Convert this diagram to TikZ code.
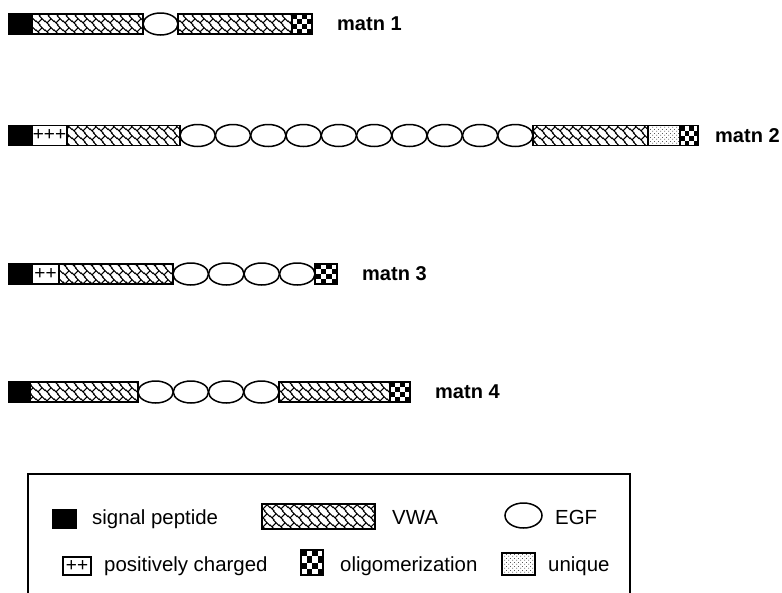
\documentclass[tikz,border=0pt]{standalone}
\usepackage{fontspec}
\setmainfont{Liberation Sans}
\usetikzlibrary{shapes.geometric,patterns,calc}

\pgfdeclarepatternformonly{vwaweave}{\pgfqpoint{0pt}{0pt}}{\pgfqpoint{9pt}{9pt}}{\pgfqpoint{9pt}{9pt}}{%
  \pgfsetlinewidth{1.2pt}%
  \pgfpathmoveto{\pgfqpoint{-1pt}{5.5pt}}\pgfpathlineto{\pgfqpoint{5.5pt}{-1pt}}%
  \pgfpathmoveto{\pgfqpoint{3.5pt}{10pt}}\pgfpathlineto{\pgfqpoint{10pt}{3.5pt}}%
  \pgfpathmoveto{\pgfqpoint{2.25pt}{2.25pt}}\pgfpathlineto{\pgfqpoint{6.75pt}{6.75pt}}%
  \pgfusepath{stroke}}

\pgfdeclarepatternformonly{uniqdots}{\pgfqpoint{0pt}{0pt}}{\pgfqpoint{4pt}{4pt}}{\pgfqpoint{4pt}{4pt}}{%
  \pgfpathcircle{\pgfqpoint{1pt}{1pt}}{0.5pt}%
  \pgfpathcircle{\pgfqpoint{3pt}{3pt}}{0.5pt}%
  \pgfusepath{fill}}

\tikzset{
  dom/.style={draw, line width=1.3pt, inner sep=0pt, outer sep=0pt, anchor=west, minimum height=20pt},
  sp/.style={dom, fill=black},
  vwa/.style={dom, pattern=vwaweave},
  egf/.style={draw, line width=1.5pt, ellipse, inner sep=0pt, outer sep=0pt, anchor=west, minimum height=22pt},
  posch/.style={dom, font=\fontsize{19}{19}\selectfont},
  uniq/.style={dom, pattern=uniqdots},
  chk/.style={dom, path picture={
    \foreach \i/\j in {0/0,0/2,1/1,1/3,2/0,2/2,3/1,3/3}{
      \fill let \p1=(path picture bounding box.north west), \p2=(path picture bounding box.south east) in
        ({\x1+\i*(\x2-\x1)/4}, {\y1+\j*(\y2-\y1)/4}) rectangle ({\x1+(\i+1)*(\x2-\x1)/4}, {\y1+(\j+1)*(\y2-\y1)/4});
    }}},
  lbl/.style={font=\fontsize{20}{24}\selectfont\bfseries, anchor=west, inner sep=0pt},
  ltxt/.style={font=\fontsize{20.4}{24}\selectfont, anchor=base west, inner sep=0pt},
}

\begin{document}
\begin{tikzpicture}[x=1pt, y=-1pt]
\useasboundingbox (0,0) rectangle (782,592);

% matn 1
\node[sp, minimum width=23pt] (r1sp) at (9,24) {};
\node[vwa, minimum width=111pt] (r1v1) at (32,24) {};
\node[egf, minimum width=35pt] (r1e) at (143,24) {};
\node[vwa, minimum width=114pt] (r1v2) at (178,24) {};
\node[chk, minimum width=20pt] (r1c) at (292,24) {};
\node[lbl] (r1l) at (337,24) {matn 1};

% matn 2
\node[sp, minimum width=23pt] (r2sp) at (9,135.5) {};
\node[posch, minimum width=35pt] (r2p) at (32,135.5) {+++};
\node[vwa, minimum width=113pt] (r2v1) at (67,135.5) {};
\foreach \k in {0,...,9}{
  \node[egf, minimum width=35.3pt] (r2e\k) at ({180+35.3*\k},135.5) {};
}
\node[vwa, minimum width=115pt] (r2v2) at (533,135.5) {};
\node[uniq, minimum width=32pt] (r2u) at (648,135.5) {};
\node[chk, minimum width=18pt] (r2c) at (680,135.5) {};
\node[lbl] (r2l) at (715,135.5) {matn 2};

% matn 3
\node[sp, minimum width=23pt] (r3sp) at (9,274) {};
\node[posch, minimum width=27pt] (r3p) at (32,274) {++};
\node[vwa, minimum width=114pt] (r3v) at (59,274) {};
\foreach \k in {0,...,3}{
  \node[egf, minimum width=35.5pt] (r3e\k) at ({173+35.5*\k},274) {};
}
\node[chk, minimum width=22pt] (r3c) at (315,274) {};
\node[lbl] (r3l) at (362,274) {matn 3};

% matn 4
\node[sp, minimum width=21pt] (r4sp) at (9,392) {};
\node[vwa, minimum width=108pt] (r4v1) at (30,392) {};
\foreach \k in {0,...,3}{
  \node[egf, minimum width=35.25pt] (r4e\k) at ({138+35.25*\k},392) {};
}
\node[vwa, minimum width=111pt] (r4v2) at (279,392) {};
\node[chk, minimum width=20pt] (r4c) at (390,392) {};
\node[lbl] (r4l) at (435,392) {matn 4};

% legend
\draw[line width=1.5pt] (28,474) rectangle (630,640);
\node[sp, minimum width=23pt, minimum height=18pt] (lsp) at (53,519) {};
\node[ltxt] (tsp) at (92,524) {signal peptide};
\node[vwa, minimum width=113pt, minimum height=25pt] (lvwa) at (262,516.5) {};
\node[ltxt] (tvwa) at (392,524) {VWA};
\node[egf, minimum width=37pt, minimum height=25pt] (legf) at (505,515.5) {};
\node[ltxt] (tegf) at (555,524) {EGF};

\node[posch, minimum width=28pt, minimum height=18pt] (lpos) at (63,566) {++};
\node[ltxt] (tpos) at (104,571) {positively charged};
\node[chk, minimum width=22pt, minimum height=25pt] (lchk) at (301,562.5) {};
\node[ltxt] (tchk) at (340,571) {oligomerization};
\node[uniq, minimum width=33pt, minimum height=22pt] (luniq) at (502,564) {};
\node[ltxt] (tuniq) at (548,571) {unique};
\end{tikzpicture}
\end{document}
